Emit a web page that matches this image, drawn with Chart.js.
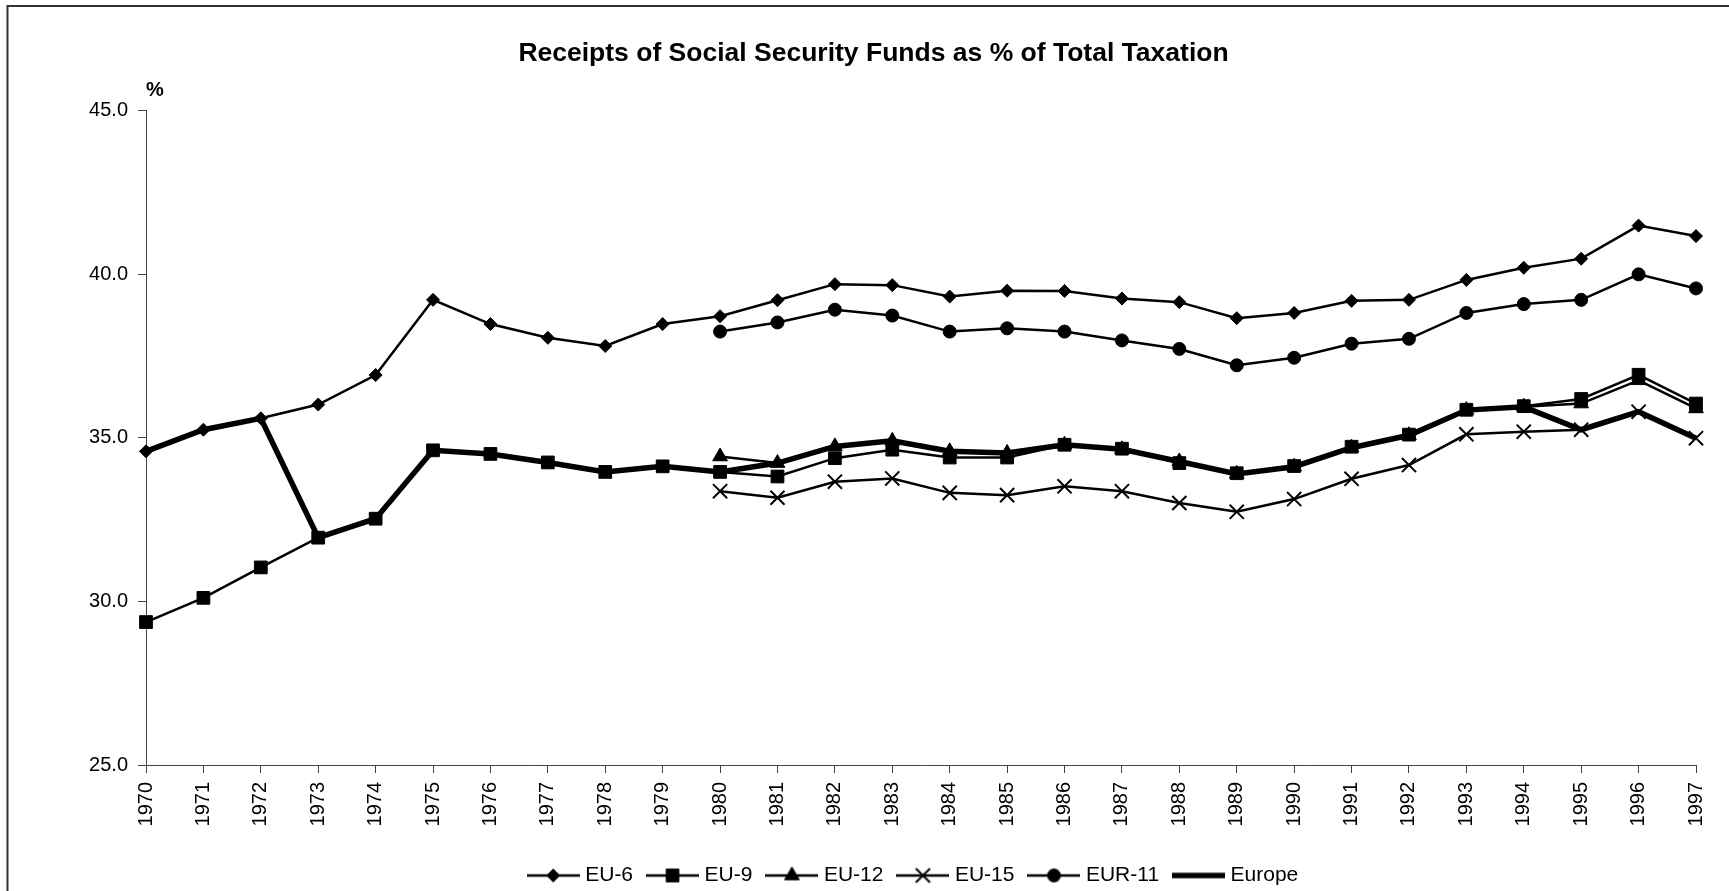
<!DOCTYPE html>
<html>
<head>
<meta charset="utf-8">
<title>Receipts of Social Security Funds as % of Total Taxation</title>
<script src="https://cdn.jsdelivr.net/npm/chart.js@4.4.1/dist/chart.umd.min.js"></script>
<style>
  html, body { margin: 0; padding: 0; background: #fff; }
  #wrap { width: 1729px; height: 891px; }
</style>
</head>
<body>
<div id="wrap"><canvas id="tax-chart" width="1729" height="891"></canvas></div>
<script>
const years = ["1970", "1971", "1972", "1973", "1974", "1975", "1976", "1977", "1978", "1979",
  "1980", "1981", "1982", "1983", "1984", "1985", "1986", "1987", "1988", "1989",
  "1990", "1991", "1992", "1993", "1994", "1995", "1996", "1997"];

const eu6 = [34.59, 35.25, 35.60, 36.02, 36.92, 39.22, 38.48, 38.06, 37.81, 38.48,
  38.72, 39.21, 39.70, 39.67, 39.32, 39.50, 39.49, 39.26, 39.15, 38.66,
  38.82, 39.19, 39.22, 39.83, 40.20, 40.48, 41.49, 41.17];
const eu9 = [29.37, 30.11, 31.04, 31.95, 32.53, 34.62, 34.51, 34.25, 33.96, 34.13,
  33.96, 33.82, 34.38, 34.64, 34.40, 34.40, 34.79, 34.67, 34.23, 33.92,
  34.14, 34.73, 35.10, 35.86, 35.97, 36.19, 36.93, 36.05];
const eu12 = [null, null, null, null, null, null, null, null, null, null,
  34.43, 34.23, 34.74, 34.91, 34.59, 34.54, 34.79, 34.65, 34.28, 33.90,
  34.12, 34.70, 35.08, 35.85, 35.95, 36.05, 36.76, 35.90];
const eu15 = [null, null, null, null, null, null, null, null, null, null,
  33.37, 33.17, 33.66, 33.76, 33.32, 33.25, 33.52, 33.37, 33.01, 32.74,
  33.13, 33.75, 34.17, 35.11, 35.19, 35.25, 35.80, 34.99];
const eur11 = [null, null, null, null, null, null, null, null, null, null,
  38.25, 38.53, 38.92, 38.74, 38.25, 38.35, 38.25, 37.98, 37.72, 37.22,
  37.45, 37.88, 38.03, 38.82, 39.09, 39.22, 40.00, 39.57];
const europe = [34.59, 35.25, 35.60, 31.95, 32.53, 34.62, 34.51, 34.25, 33.96, 34.13,
  33.96, 34.23, 34.74, 34.91, 34.59, 34.54, 34.79, 34.65, 34.28, 33.90,
  34.12, 34.70, 35.08, 35.85, 35.95, 35.25, 35.80, 34.99];

const seriesNames = ["EU-6", "EU-9", "EU-12", "EU-15", "EUR-11", "Europe"];
const yTicks = [25, 30, 35, 40, 45];

const FONT = "'Liberation Sans', Arial, sans-serif";

// marker look per series: [pointStyle, radius, border, lineWidth]
const markers = [
  ['rectRot', 6.5, 1, 2.5],
  ['rect', 9, 1, 2.5],
  ['triangle', 8.5, 1, 2.5],
  ['crossRot', 10, 2, 2.5],
  ['circle', 6.5, 1, 2.5],
  [false, 0, 0, 5.5]
];

function drawMarker(g, style, x, y, r, bw) {
  g.lineWidth = bw;
  g.beginPath();
  if (style === 'rectRot') {
    g.moveTo(x, y - r); g.lineTo(x + r, y); g.lineTo(x, y + r); g.lineTo(x - r, y); g.closePath();
  } else if (style === 'rect') {
    var s = r * Math.SQRT1_2;
    g.rect(x - s, y - s, 2 * s, 2 * s);
  } else if (style === 'triangle') {
    g.moveTo(x, y - r); g.lineTo(x + 0.866 * r, y + 0.5 * r); g.lineTo(x - 0.866 * r, y + 0.5 * r); g.closePath();
  } else if (style === 'circle') {
    g.arc(x, y, r, 0, Math.PI * 2);
  } else if (style === 'crossRot') {
    var d = r * Math.SQRT1_2;
    g.moveTo(x - d, y - d); g.lineTo(x + d, y + d);
    g.moveTo(x + d, y - d); g.lineTo(x - d, y + d);
    g.stroke();
    return;
  } else {
    return;
  }
  g.fill();
  g.stroke();
}

function legendImage(m) {
  const c = document.createElement('canvas');
  c.width = 53;
  c.height = 22;
  const g = c.getContext('2d');
  g.strokeStyle = '#000';
  g.fillStyle = '#000';
  g.lineWidth = m[3];
  g.beginPath();
  g.moveTo(0, 11);
  g.lineTo(53, 11);
  g.stroke();
  drawMarker(g, m[0], 26.5, 11, m[1], m[2]);
  return c;
}

const legendImages = markers.map(legendImage);

const seriesValues = [eu6, eu9, eu12, eu15, eur11, europe];
const datasets = seriesValues.map((vals, i) => ({
  label: seriesNames[i],
  data: vals,
  borderColor: '#000',
  backgroundColor: '#000',
  borderWidth: markers[i][3],
  pointStyle: markers[i][0] || 'circle',
  pointRadius: markers[i][1],
  pointHoverRadius: markers[i][1],
  pointBorderWidth: markers[i][2],
  pointBackgroundColor: '#000',
  pointBorderColor: '#000',
  tension: 0,
  fill: false,
  spanGaps: false,
  clip: false
}));

const framePlugin = {
  id: 'frame',
  afterLayout(chart) {
    // nudge the legend row to where the original sits
    const lg = chart.legend;
    lg.left -= 6; lg.right -= 6;
    lg.top += 5; lg.bottom += 5;
  },
  beforeDraw(chart) {
    const ctx = chart.ctx;
    ctx.save();
    ctx.fillStyle = '#fff';
    ctx.fillRect(0, 0, chart.width, chart.height);
    ctx.strokeStyle = '#333';
    ctx.lineWidth = 2;
    ctx.strokeRect(7.5, 6, chart.width + 40, chart.height + 40);
    ctx.restore();
  },
  afterDraw(chart) {
    const ctx = chart.ctx;
    ctx.save();
    ctx.fillStyle = '#000';
    ctx.font = 'bold 20px ' + FONT;
    ctx.textAlign = 'left';
    ctx.textBaseline = 'middle';
    ctx.fillText('%', chart.chartArea.left, 90);
    ctx.restore();
  }
};

const ctx = document.getElementById('tax-chart');
const taxChart = new Chart(ctx, {
  type: 'line',
  data: { labels: years, datasets: datasets },
  plugins: [framePlugin],
  options: {
    responsive: false,
    devicePixelRatio: 1,
    animation: false,
    layout: { padding: { left: 46, right: 28, top: 0, bottom: 0 } },
    plugins: {
      tooltip: { enabled: false },
      title: {
        display: true,
        text: 'Receipts of Social Security Funds as % of Total Taxation',
        color: '#000',
        font: { family: FONT, size: 26.5, weight: 'bold' },
        padding: { top: 38, bottom: 41 }
      },
      legend: {
        display: true,
        position: 'bottom',
        fullSize: false,
        labels: {
          usePointStyle: true,
          pointStyleWidth: 43,
          boxHeight: 21,
          padding: 18,
          color: '#000',
          font: { family: FONT, size: 21 },
          generateLabels: (chart) => chart.data.datasets.map((ds, i) => ({
            text: ds.label,
            pointStyle: legendImages[i],
            datasetIndex: i,
            hidden: false,
            lineWidth: 0,
            fillStyle: 'transparent',
            strokeStyle: 'transparent',
            fontColor: '#000'
          }))
        }
      }
    },
    scales: {
      x: {
        offset: false,
        grid: { display: true, drawOnChartArea: false, drawTicks: true, tickLength: 8, color: '#444', lineWidth: 1 },
        border: { display: true, color: '#444', width: 1 },
        ticks: {
          autoSkip: false,
          maxRotation: 90,
          minRotation: 90,
          padding: 9,
          color: '#000',
          font: { family: FONT, size: 20 }
        },
        afterFit: (scale) => { scale.height = 77; }
      },
      y: {
        min: 25,
        max: 45,
        grid: { display: true, drawOnChartArea: false, drawTicks: true, tickLength: 8, color: '#444', lineWidth: 1 },
        border: { display: true, color: '#444', width: 1 },
        afterBuildTicks: (axis) => { axis.ticks = yTicks.map(v => ({ value: v })); },
        ticks: {
          padding: 10,
          color: '#000',
          font: { family: FONT, size: 20 },
          callback: (v) => Number(v).toFixed(1)
        },
        afterFit: (scale) => { scale.width = 100; }
      }
    }
  }
});
</script>
</body>
</html>
